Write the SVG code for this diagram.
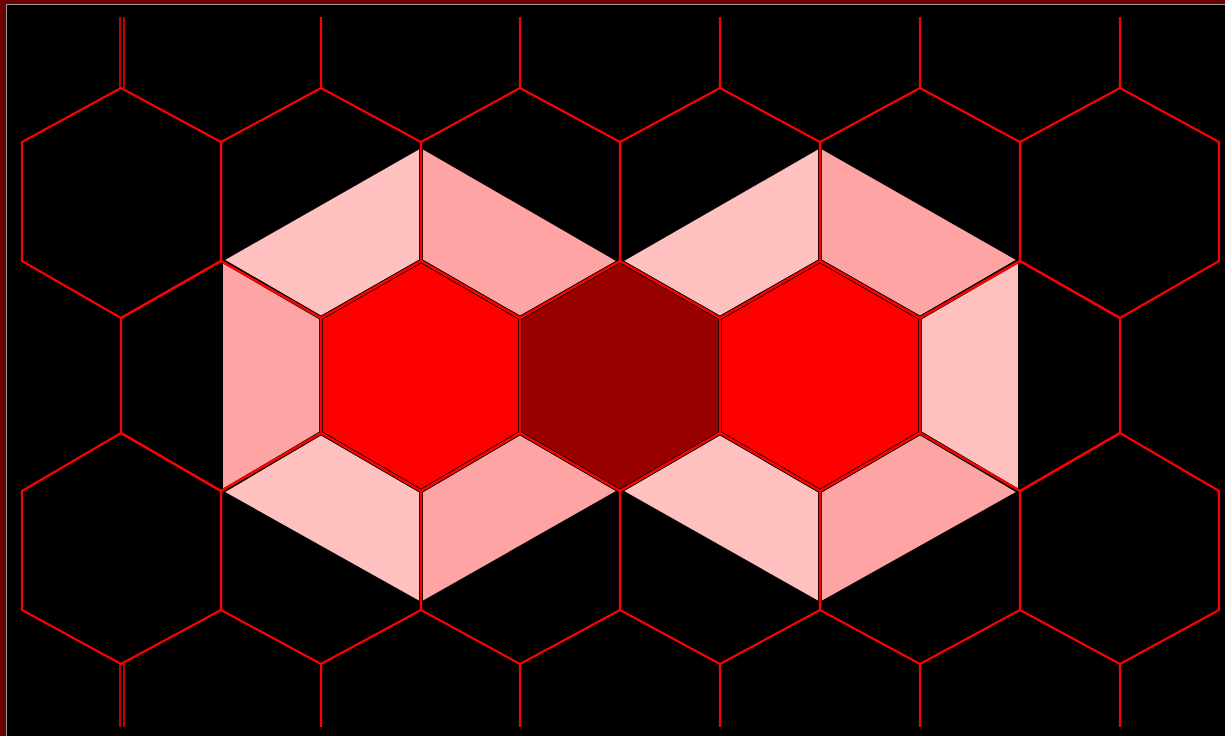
<svg xmlns="http://www.w3.org/2000/svg" width="1225" height="736" viewBox="0 0 1225 736">
<style>
.light{fill:#ffc0c0;stroke:#000;stroke-width:4;stroke-linejoin:round}
.med{fill:#ffa4a4;stroke:#000;stroke-width:4;stroke-linejoin:round}
.red{fill:#ff0000;stroke:#000;stroke-width:4;stroke-linejoin:round}
.dark{fill:#990000;stroke:#000;stroke-width:4;stroke-linejoin:round}
.grid polygon,.grid line{fill:none;stroke:#ff0000;stroke-width:2.2;stroke-linejoin:round}
.grid .thin{stroke-width:1.5}
</style>
<rect x="0" y="0" width="1225" height="736" fill="#6b0000"/>
<rect x="6.5" y="4.5" width="1230" height="740" fill="#000" stroke="#9a9a9a" stroke-width="1"/>

<g id="left-cell">
<polygon class="light" points="221,260 421,146 421,261 321,318"/>
<polygon class="med" points="421,146 620,261 520,318 421,261"/>
<polygon class="med" points="620,491 421,604 421,491 520,433"/>
<polygon class="light" points="421,604 221,492 321,433 421,491"/>
<polygon class="med" points="221,492 221,260 321,318 321,433"/>
<polygon class="red" points="421,261 520,318 520,433 421,491 321,433 321,318"/>
</g>
<g id="right-cell">
<polygon class="light" points="620,261 820,146 820,261 720,318"/>
<polygon class="med" points="820,146 1020,260 920,318 820,261"/>
<polygon class="light" points="1020,260 1020,492 920,433 920,318"/>
<polygon class="med" points="1020,492 820,604 820,491 920,433"/>
<polygon class="light" points="820,604 620,491 720,433 820,491"/>
<polygon class="red" points="820,261 920,318 920,433 820,491 720,433 720,318"/>
</g>
<g id="center-cell">
<polygon class="dark" points="620,261 720,318 720,433 620,491 520,433 520,318"/>
</g>

<g id="grid" class="grid">
<polygon points="121,88 221,142 221,261 121,318 22,261 22,142"/>
<polygon points="321,88 421,142 421,261 321,318 221,261 221,142"/>
<polygon points="520,88 620,142 620,261 520,318 421,261 421,142"/>
<polygon points="720,88 820,142 820,261 720,318 620,261 620,142"/>
<polygon points="920,88 1020,142 1020,261 920,318 820,261 820,142"/>
<polygon points="1120,88 1219,142 1219,261 1120,318 1020,261 1020,142"/>

<polygon points="221,261 321,318 321,433 221,491 121,433 121,318"/>
<polygon points="421,261 520,318 520,433 421,491 321,433 321,318"/>
<polygon points="620,261 720,318 720,433 620,491 520,433 520,318"/>
<polygon points="820,261 920,318 920,433 820,491 720,433 720,318"/>
<polygon points="1020,261 1120,318 1120,433 1020,491 920,433 920,318"/>

<polygon points="121,433 221,491 221,610 121,664 22,610 22,491"/>
<polygon points="321,433 421,491 421,610 321,664 221,610 221,491"/>
<polygon points="520,433 620,491 620,610 520,664 421,610 421,491"/>
<polygon points="720,433 820,491 820,610 720,664 620,610 620,491"/>
<polygon points="920,433 1020,491 1020,610 920,664 820,610 820,491"/>
<polygon points="1120,433 1219,491 1219,610 1120,664 1020,610 1020,491"/>

<line class="thin" x1="120" y1="17" x2="120" y2="88"/>
<line class="thin" x1="124" y1="17" x2="124" y2="88"/>
<line x1="321" y1="17" x2="321" y2="88"/>
<line x1="520" y1="17" x2="520" y2="88"/>
<line x1="720" y1="17" x2="720" y2="88"/>
<line x1="920" y1="17" x2="920" y2="88"/>
<line x1="1120" y1="17" x2="1120" y2="88"/>

<line class="thin" x1="120" y1="664" x2="120" y2="727"/>
<line class="thin" x1="124" y1="664" x2="124" y2="727"/>
<line x1="321" y1="664" x2="321" y2="727"/>
<line x1="520" y1="664" x2="520" y2="727"/>
<line x1="720" y1="664" x2="720" y2="727"/>
<line x1="920" y1="664" x2="920" y2="727"/>
<line x1="1120" y1="664" x2="1120" y2="727"/>
</g>
</svg>
